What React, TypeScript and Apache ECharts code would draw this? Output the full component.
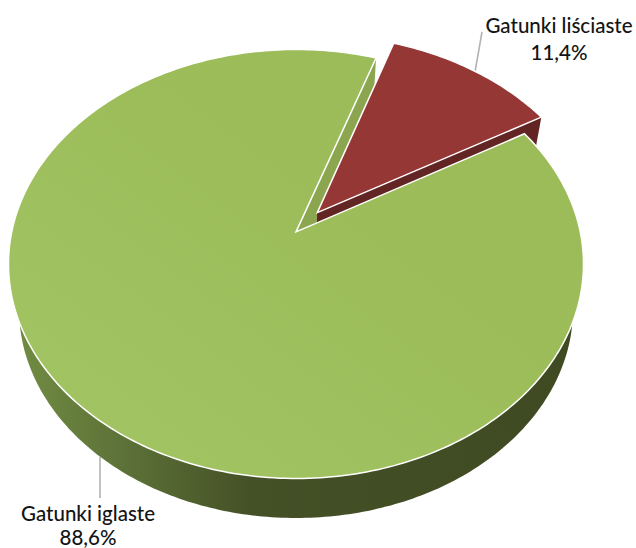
import React, { useEffect, useRef } from "react";
import * as echarts from "echarts";

const categories = ["Gatunki iglaste", "Gatunki liściaste"];
const values = [88.6, 11.4];
const firstAngle = 59.8;

const W = 636;
const H = 548;
const TOP = { cx: 296, cy: 264, rx: 287.5, ry: 214.5 };
const BOTTOM = { cx: 296, cy: 309, rx: 277, ry: 209 };
const PERSPECTIVE = 0.15;
const EXPLODE = [0, 0.12];
const FONT = "500 20.5px Lato, 'Open Sans', sans-serif";
const TEXT_STYLE = {
  font: FONT,
  fill: "#141414",
  align: "center",
  verticalAlign: "middle",
};

// Projects a point of the unit disc onto the tilted pie's top face.
function project(u: number, v: number): number[] {
  const a = PERSPECTIVE;
  const w = 1 + a * v;
  const pu = (u * Math.sqrt(1 - a * a)) / w;
  const pv = (v + a) / w;
  return [TOP.cx + TOP.rx * pu, TOP.cy - TOP.ry * pv];
}

// The same point moved down to the pie's bottom face.
function drop(p: number[]): number[] {
  return [
    BOTTOM.cx + ((p[0] - TOP.cx) * BOTTOM.rx) / TOP.rx,
    BOTTOM.cy + ((p[1] - TOP.cy) * BOTTOM.ry) / TOP.ry,
  ];
}

function slicePoints(startDeg: number, endDeg: number, explode: number) {
  const mid = (((startDeg + endDeg) / 2) * Math.PI) / 180;
  const ox = explode * Math.sin(mid);
  const oy = explode * Math.cos(mid);
  const apex = project(ox, oy);
  const arc: number[][] = [];
  const n = Math.max(8, Math.ceil(endDeg - startDeg));
  for (let i = 0; i <= n; i++) {
    const t = ((startDeg + ((endDeg - startDeg) * i) / n) * Math.PI) / 180;
    arc.push(project(ox + Math.sin(t), oy + Math.cos(t)));
  }
  return { apex, arc };
}

function lowerWall(): number[][] {
  const pts: number[][] = [];
  const cut = 322;
  for (let i = 0; i <= 360; i++) {
    const t = (i * Math.PI) / 180;
    const y = BOTTOM.cy + BOTTOM.ry * Math.sin(t);
    if (y >= cut) pts.push([BOTTOM.cx + BOTTOM.rx * Math.cos(t), y]);
  }
  return pts;
}

const total = values.reduce((s, v) => s + v, 0);

function renderSlice(params: any, api: any) {
  const i = params.dataIndex;
  const val = api.value(0);
  let start = firstAngle;
  for (let k = 0; k < i; k++) start += (values[k] / total) * 360;
  const end = start + (val / total) * 360;
  const { apex, arc } = slicePoints(start, end, EXPLODE[i]);
  const first = arc[0];
  const last = arc[arc.length - 1];
  const label = String(val.toFixed(1)).replace(".", ",") + "%";
  const children: any[] = [];

  if (i === 0) {
    children.push({
      type: "polygon",
      z2: 1,
      shape: { points: lowerWall() },
      style: {
        fill: new echarts.graphic.LinearGradient(0, 0, 1, 0, [
          { offset: 0, color: "#718b42" },
          { offset: 0.2, color: "#5b7037" },
          { offset: 0.42, color: "#445026" },
          { offset: 1, color: "#3f4a22" },
        ]),
      },
    });
    children.push({
      type: "polygon",
      z2: 2,
      shape: { points: [apex, last, drop(last), drop(apex)] },
      style: { fill: "#8ba64f" },
    });
    children.push({
      type: "polygon",
      z2: 5,
      shape: { points: [apex, ...arc] },
      style: {
        fill: new echarts.graphic.LinearGradient(0, 1, 1, 0, [
          { offset: 0, color: "#a4c565" },
          { offset: 0.55, color: "#9cbd5a" },
          { offset: 1, color: "#9bbb59" },
        ]),
        stroke: "#ffffff",
        lineWidth: 1.5,
        lineJoin: "miter",
      },
    });
    children.push({
      type: "line",
      z2: 0,
      shape: { x1: 100, y1: 457, x2: 100, y2: 498 },
      style: { stroke: "#b3b3b3", lineWidth: 1.6 },
    });
    children.push({
      type: "text",
      z2: 6,
      style: { ...TEXT_STYLE, x: 88, y: 513, text: categories[i] },
    });
    children.push({
      type: "text",
      z2: 6,
      style: { ...TEXT_STYLE, x: 88, y: 537, text: label },
    });
  } else {
    children.push({
      type: "polygon",
      z2: 3,
      shape: { points: [apex, last, drop(last), drop(apex)] },
      style: { fill: "#632523" },
    });
    children.push({
      type: "polygon",
      z2: 3,
      shape: { points: [first, drop(first), drop(apex), apex] },
      style: { fill: "#632523" },
    });
    children.push({
      type: "polygon",
      z2: 4,
      shape: { points: [apex, ...arc] },
      style: { fill: "#953735", stroke: "#ffffff", lineWidth: 1.5, lineJoin: "miter" },
    });
    children.push({
      type: "line",
      z2: 0,
      shape: { x1: 482, y1: 32, x2: 475, y2: 72 },
      style: { stroke: "#b3b3b3", lineWidth: 1.6 },
    });
    children.push({
      type: "text",
      z2: 6,
      style: { ...TEXT_STYLE, x: 559, y: 25, text: categories[i] },
    });
    children.push({
      type: "text",
      z2: 6,
      style: { ...TEXT_STYLE, x: 559, y: 52, text: label },
    });
  }
  return { type: "group", children };
}

export default function App() {
  const ref = useRef<HTMLDivElement>(null);
  useEffect(() => {
    document.body.style.margin = "0";
    const chart = echarts.init(ref.current as HTMLDivElement, undefined, { renderer: "svg" });
    chart.setOption({
      animation: false,
      backgroundColor: "#ffffff",
      series: [
        {
          type: "custom",
          coordinateSystem: "none",
          renderItem: renderSlice,
          data: values.map((v, i) => ({ name: categories[i], value: [v] })),
        },
      ],
    });
    return () => chart.dispose();
  }, []);
  return <div ref={ref} style={{ width: W, height: H }} />;
}
